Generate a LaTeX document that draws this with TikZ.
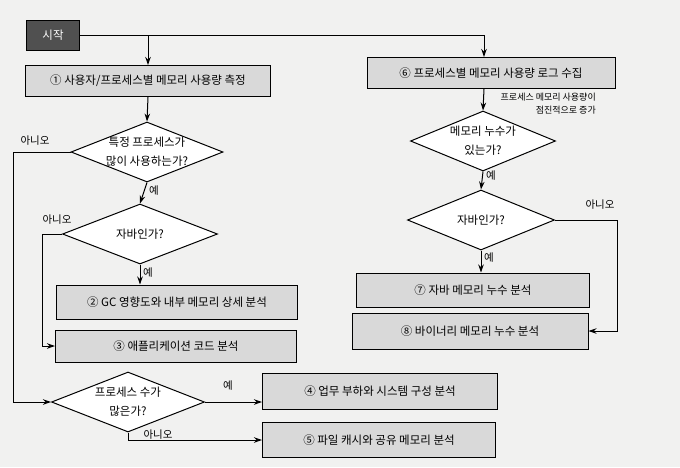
\documentclass[tikz,border=0pt]{standalone}
\usepackage{fontspec}
\setmainfont{Noto Sans CJK KR}
\usetikzlibrary{shapes.geometric,arrows.meta,calc}
\definecolor{boxgray}{HTML}{D9D9D9}
\definecolor{startgray}{HTML}{505050}
\definecolor{paper}{HTML}{F1F1F0}
\begin{document}
\begin{tikzpicture}[x=1pt,y=-1pt,
  every node/.style={font=\fontsize{11.5}{14}\selectfont},
  procbox/.style={draw=black, line width=1pt, fill=boxgray, inner sep=0pt},
  startbox/.style={draw=black, line width=1pt, fill=startgray, text=white, inner sep=0pt, minimum width=53pt, minimum height=30pt},
  decision/.style={draw=black, line width=1pt, diamond, fill=white, inner sep=0pt, aspect=2.5},
  dtext/.style={align=center, inner sep=0pt, font=\fontsize{11.5}{19}\selectfont},
  lbl/.style={inner sep=1pt, font=\fontsize{10.5}{12}\selectfont},
  conn/.style={line width=1pt},
  arr/.style={line width=1pt, -{Stealth[length=8pt,width=5.5pt]}}
]
\fill[paper] (0,0) rectangle (680,467);
\useasboundingbox (0,0) rectangle (680,467);

% nodes
\node[startbox] (start) at (53,35) {시작};
\node[procbox, minimum width=245pt, minimum height=31pt] (b1) at (148,81) {① 사용자/프로세스별 메모리 사용량 측정};
\node[procbox, minimum width=248pt, minimum height=31pt] (b6) at (491,73) {⑥ 프로세스별 메모리 사용량 로그 수집};

\node[decision, minimum width=152pt, minimum height=60pt] (d1) at (147,152) {};
\node[dtext] (t1) at (d1) {특정 프로세스가\\많이 사용하는가?};
\node[decision, minimum width=155pt, minimum height=60pt] (d2) at (140,234) {};
\node[dtext] (t2) at (d2) {자바인가?};

\node[procbox, minimum width=241pt, minimum height=34pt] (b2) at (177,302) {② GC 영향도와 내부 메모리 상세 분석};
\node[procbox, minimum width=241pt, minimum height=32pt] (b3) at (176,346) {③ 애플리케이션 코드 분석};

\node[decision, minimum width=153pt, minimum height=60pt] (d3) at (128,402) {};
\node[dtext] (t3) at (d3) {프로세스 수가\\많은가?};

\node[procbox, minimum width=235pt, minimum height=36pt] (b4) at (380,391) {④ 업무 부하와 시스템 구성 분석};
\node[procbox, minimum width=233pt, minimum height=35pt] (b5) at (379,440) {⑤ 파일 캐시와 공유 메모리 분석};

\node[decision, minimum width=145pt, minimum height=60pt] (d4) at (483,141) {};
\node[dtext] (t4) at (d4) {메모리 누수가\\있는가?};
\node[decision, minimum width=147pt, minimum height=60pt] (d5) at (481,220) {};
\node[dtext] (t5) at (d5) {자바인가?};

\node[procbox, minimum width=233pt, minimum height=34pt] (b7) at (473,290) {⑦ 자바 메모리 누수 분석};
\node[procbox, minimum width=236pt, minimum height=36pt] (b8) at (470,331) {⑧ 바이너리 메모리 누수 분석};

% coordinates
\coordinate (c1) at (b1.north |- start.east);
\coordinate (c6) at (484,35);
\coordinate (n1) at (13,152);
\coordinate (n2) at (42,234);
\coordinate (n5) at (617,220);

% connectors
\draw[conn] (start.east) -- (c6);
\draw[arr] (c6) -- (c6 |- b6.north);
\draw[arr] (c1) -- (b1.north);
\draw[arr] (b1.south) -- (d1.north);
\draw[arr] (d1.south) -- (d2.north);
\draw[arr] (d2.south) -- (d2.south |- b2.north);
\draw[conn] (d1.west) -- (n1);
\draw[arr] (n1) |- (d3.west);
\draw[conn] (d2.west) -- (n2);
\draw[arr] (n2) |- (b3.west);
\draw[arr] (d3.east) -- (d3.east -| b4.west);
\draw[arr] (d3.south) |- (b5.west);

\draw[arr] (c6 |- b6.south) -- (d4.north);
\draw[arr] (d4.south) -- (d5.north);
\draw[arr] (d5.south) -- (d5.south |- b7.north);
\draw[conn] (d5.east) -- (n5);
\draw[arr] (n5) |- (b8.east);

% labels
\node[lbl] (l1) at (35,141) {아니오};
\node[lbl] (l2) at (154,191) {예};
\node[lbl] (l3) at (57,220) {아니오};
\node[lbl] (l4) at (148,273) {예};
\node[lbl] (l5) at (228,386) {예};
\node[lbl] (l6) at (158,435) {아니오};
\node[lbl, align=right, anchor=north east, font=\fontsize{9}{13}\selectfont] (l7) at (597,92) {프로세스 메모리 사용량이\\점진적으로 증가};
\node[lbl] (l8) at (491,176) {예};
\node[lbl] (l9) at (600,205) {아니오};
\node[lbl] (l10) at (489,258) {예};
\end{tikzpicture}
\end{document}
